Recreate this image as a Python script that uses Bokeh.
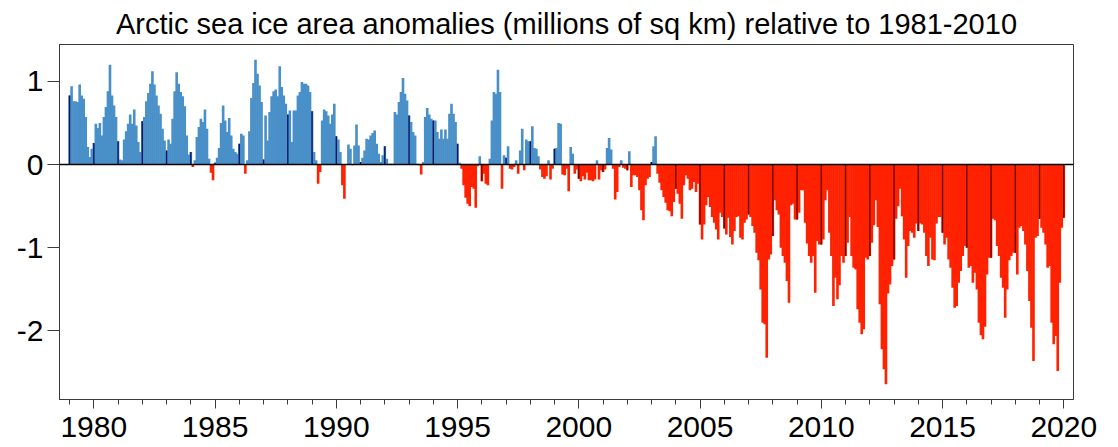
from bokeh.plotting import figure
from bokeh.models import ColumnDataSource, SingleIntervalTicker, FixedTicker, Span, Range1d
from bokeh.embed import file_html
from bokeh.resources import INLINE

# Monthly anomalies (millions of sq km), Jan..Dec for each year
a1979 = [0.83, 0.94, 0.76, 0.76, 0.75, 0.96, 0.83, 0.79, 0.57, 0.21, 0.09, 0.19]
a1980 = [0.26, 0.49, 0.44, 0.50, 0.35, 0.57, 0.69, 0.88, 1.20, 0.83, 0.71, 0.57]
a1981 = [0.28, 0.06, 0.05, 0.30, 0.40, 0.49, 0.60, 0.49, 0.66, 0.47, 0.27, 0.15]
a1982 = [0.52, 0.57, 0.76, 0.86, 0.97, 1.12, 0.96, 0.83, 0.71, 0.61, 0.43, 0.29]
a1983 = [0.17, 0.30, 0.25, 0.55, 0.88, 1.11, 0.97, 0.87, 0.82, 0.70, 0.35, 0.12]
a1984 = [0.15, -0.03, 0.05, 0.33, 0.45, 0.55, 0.51, 0.66, 0.43, 0.07, -0.10, -0.19]
a1985 = [0.02, 0.08, 0.20, 0.50, 0.71, 0.53, 0.39, 0.56, 0.35, 0.19, 0.15, 0.13]
a1986 = [0.25, 0.37, 0.35, -0.11, 0.05, 0.40, 0.80, 0.98, 1.26, 1.09, 0.95, 0.75]
a1987 = [0.06, 0.59, 0.29, 0.63, 0.82, 0.88, 0.90, 0.82, 1.18, 0.93, 0.83, 0.73]
a1988 = [0.60, 0.65, 0.27, 0.65, 0.65, 0.83, 0.87, 0.99, 0.97, 0.97, 0.95, 0.87]
a1989 = [0.64, 0.15, 0.05, -0.23, -0.09, 0.53, 0.66, 0.64, 0.59, 0.49, 0.60, 0.73]
a1990 = [0.34, 0.30, 0.15, -0.25, -0.41, 0.00, 0.24, 0.19, -0.01, 0.23, 0.48, 0.23]
a1991 = [0.03, 0.08, 0.17, 0.31, 0.30, 0.35, 0.38, 0.41, 0.25, 0.13, 0.03, 0.11]
a1992 = [0.22, 0.07, 0.01, 0.01, 0.01, 0.63, 0.60, 0.75, 0.87, 1.04, 0.85, 0.77]
a1993 = [0.59, 0.51, 0.39, 0.35, 0.01, -0.01, -0.12, 0.03, 0.57, 0.68, 0.60, 0.55]
a1994 = [0.53, 0.53, 0.39, 0.31, 0.42, 0.31, 0.42, 0.31, 0.61, 0.73, 0.61, 0.51]
a1995 = [0.25, 0.02, -0.05, -0.25, -0.40, -0.47, -0.50, -0.27, -0.29, -0.52, -0.02, 0.10]
a1996 = [-0.20, -0.11, -0.23, -0.25, 0.07, 0.53, 0.87, 0.85, 1.14, 0.87, -0.29, 0.11]
a1997 = [0.08, 0.22, -0.05, -0.06, -0.03, 0.05, -0.11, 0.17, 0.43, -0.07, 0.30, 0.28]
a1998 = [0.28, 0.46, 0.20, 0.19, 0.10, -0.06, -0.15, -0.17, -0.14, 0.05, -0.18, -0.05]
a1999 = [0.19, 0.20, 0.50, 0.49, -0.12, -0.13, -0.05, -0.32, 0.21, 0.13, -0.11, -0.06]
a2000 = [-0.17, -0.20, -0.14, -0.18, -0.10, -0.19, -0.19, -0.20, -0.18, 0.05, -0.18, -0.07]
a2001 = [-0.09, -0.06, 0.20, 0.32, 0.18, -0.05, -0.42, -0.33, -0.03, 0.05, -0.04, -0.05]
a2002 = [-0.07, 0.16, -0.27, -0.13, -0.13, -0.15, -0.31, -0.55, -0.67, -0.25, -0.17, -0.15]
a2003 = [0.03, 0.22, 0.34, -0.11, -0.22, -0.31, -0.39, -0.46, -0.55, -0.56, -0.62, -0.45]
a2004 = [-0.29, -0.35, -0.47, -0.65, -0.25, -0.13, -0.17, -0.31, -0.29, -0.21, -0.33, -0.23]
a2005 = [-0.72, -0.90, -0.72, -0.49, -0.39, -0.51, -0.63, -0.70, -0.78, -0.90, -0.58, -0.63]
a2006 = [-0.77, -0.84, -0.64, -0.87, -0.96, -0.80, -0.63, -0.62, -0.88, -0.90, -0.70, -0.66]
a2007 = [-0.60, -0.63, -0.74, -0.82, -1.06, -1.15, -1.50, -1.90, -1.92, -2.32, -1.14, -1.08]
a2008 = [-0.86, -0.43, -0.55, -0.60, -1.00, -1.10, -1.18, -1.40, -1.66, -0.49, -0.47, -0.66]
a2009 = [-0.66, -0.58, -0.31, -0.31, -0.70, -0.95, -1.10, -1.18, -1.10, -1.54, -0.92, -0.96]
a2010 = [-0.96, -0.90, -0.43, -0.31, -0.82, -1.10, -1.70, -1.36, -1.62, -1.45, -1.10, -1.18]
a2011 = [-1.10, -0.94, -0.63, -1.10, -1.24, -1.26, -1.74, -1.90, -2.04, -1.98, -1.12, -1.14]
a2012 = [-1.10, -0.94, -0.73, -0.43, -0.75, -1.68, -2.22, -2.46, -2.64, -1.55, -1.44, -1.22]
a2013 = [-1.14, -0.65, -0.50, -0.29, -0.62, -0.90, -1.36, -0.98, -0.80, -0.82, -0.88, -0.71]
a2014 = [-0.80, -0.71, -0.72, -0.82, -1.10, -1.22, -0.88, -1.14, -1.15, -0.71, -0.63, -0.63]
a2015 = [-0.82, -0.96, -0.88, -1.14, -1.24, -1.48, -1.72, -1.70, -1.42, -1.28, -1.10, -0.98]
a2016 = [-1.00, -1.24, -1.22, -1.42, -1.30, -1.50, -1.90, -2.05, -2.10, -1.95, -1.32, -1.12]
a2017 = [-1.12, -0.65, -0.67, -0.98, -1.10, -1.36, -1.48, -1.84, -1.50, -1.15, -1.10, -1.06]
a2018 = [-1.06, -1.32, -0.76, -0.74, -0.80, -0.96, -1.28, -1.64, -1.96, -2.36, -0.88, -0.86]
a2019 = [-0.65, -0.76, -0.82, -0.96, -1.24, -1.22, -1.90, -2.16, -2.06, -2.48, -1.42, -0.76]
a2020 = [-0.64]

yearly = [a1979, a1980, a1981, a1982, a1983, a1984, a1985, a1986, a1987, a1988,
          a1989, a1990, a1991, a1992, a1993, a1994, a1995, a1996, a1997, a1998,
          a1999, a2000, a2001, a2002, a2003, a2004, a2005, a2006, a2007, a2008,
          a2009, a2010, a2011, a2012, a2013, a2014, a2015, a2016, a2017, a2018,
          a2019, a2020]
start_year = 1979

y_ticks = [-2, -1, 0, 1]
y_labels = {-2: "-2", -1: "-1", 0: "0", 1: "1"}
title_text = "Arctic sea ice area anomalies (millions of sq km) relative to 1981-2010"

BLUE = "#4A90C8"
NAVY = "#0C1866"
RED = "#FF2200"
DARKRED = "#6E0800"

xs, tops, cols = [], [], []
jx, jtop, jcol = [], [], []
for yi, vals in enumerate(yearly):
    for m, v in enumerate(vals):
        t = start_year + yi + m / 12.0
        xs.append(t)
        tops.append(v)
        cols.append(BLUE if v >= 0 else RED)
        if m == 0:
            jx.append(t)
            jtop.append(v)
            jcol.append(NAVY if v >= 0 else DARKRED)

src = ColumnDataSource(dict(x=xs, top=tops, color=cols))
jsrc = ColumnDataSource(dict(x=jx, top=jtop, color=jcol))

p = figure(width=1116, height=446,
           x_range=Range1d(1978.585, 2020.40), y_range=Range1d(-2.823, 1.442),
           output_backend="svg", toolbar_location=None,
           min_border_left=59, min_border_right=43, min_border_top=42, min_border_bottom=47,
           background_fill_color="white", border_fill_color="white")

p.vbar(x="x", top="top", bottom=0, width=1.3 / 12.0, color="color", line_width=0, source=src)
p.vbar(x="x", top="top", bottom=0, width=0.7 / 12.0, color="color", line_width=0, source=jsrc)

p.add_layout(Span(location=0, dimension="width", line_color="black", line_width=1.6))

p.title.text = title_text
p.title.text_font = "Liberation Sans"
p.title.text_font_size = "29px"
p.title.text_font_style = "normal"
p.title.align = "center"
p.title.standoff = 10
p.title.text_color = "black"

p.xgrid.visible = False
p.ygrid.visible = False
p.outline_line_color = "#3a3a3a"
p.outline_line_width = 1

xa = p.xaxis[0]
xa.ticker = SingleIntervalTicker(interval=5, num_minor_ticks=5)
xa.major_tick_out = 9
xa.major_tick_in = 0
xa.minor_tick_out = 5
xa.minor_tick_in = 0
xa.major_label_standoff = 8
xa.major_label_text_font = "Liberation Sans"
xa.major_label_text_font_size = "30px"
xa.major_label_text_color = "black"
xa.axis_line_color = "#3a3a3a"
xa.major_tick_line_color = "#3a3a3a"
xa.minor_tick_line_color = "#3a3a3a"

ya = p.yaxis[0]
ya.ticker = FixedTicker(ticks=y_ticks)
ya.major_label_overrides = y_labels
ya.major_tick_out = 12
ya.major_tick_in = 0
ya.minor_tick_line_color = None
ya.major_label_standoff = 4
ya.major_label_text_font = "Liberation Sans"
ya.major_label_text_font_size = "30px"
ya.major_label_text_color = "black"
ya.axis_line_color = "#3a3a3a"
ya.major_tick_line_color = "#3a3a3a"

open("out.html", "w").write(file_html(p, INLINE))
